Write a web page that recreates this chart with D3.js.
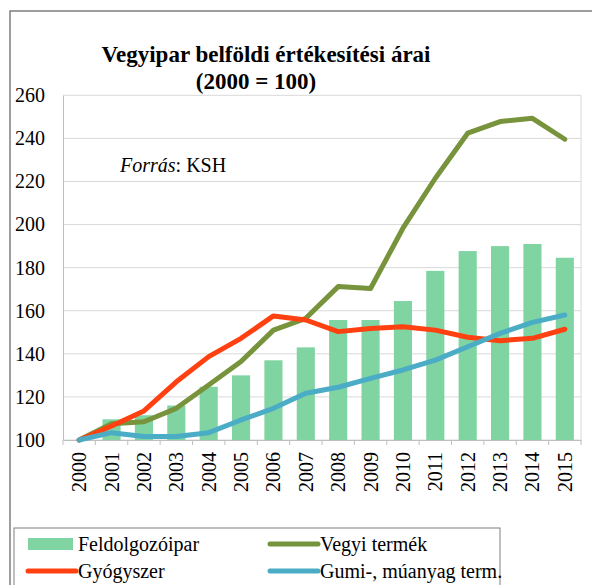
<!DOCTYPE html>
<html>
<head>
<meta charset="utf-8">
<script src="https://cdn.jsdelivr.net/npm/d3@7"></script>
<style>
  body { margin: 0; background: #fff; }
</style>
</head>
<body>
<svg id="vegyipar" width="592" height="585"></svg>
<script>
const years = ['2000','2001','2002','2003','2004','2005','2006','2007','2008','2009','2010','2011','2012','2013','2014','2015'];
const feldolgozoipar = [100, 109.6, 111.5, 116, 124.7, 130, 137, 143, 155.7, 155.7, 164.5, 178.5, 187.7, 190, 191, 184.6];
const vegyiTermek = [100, 107.5, 108.5, 114.7, 125.5, 136.4, 151, 156.5, 171.2, 170.3, 198.3, 221.5, 242.4, 247.8, 249.3, 239.6];
const gyogyszer = [100, 106.5, 113.5, 127, 138.7, 147.2, 157.6, 155.7, 150.3, 151.8, 152.6, 151, 147.7, 146.1, 147.2, 151.4];
const gumi = [100, 103.4, 101.6, 101.6, 103.4, 109.3, 114.7, 121.7, 124.5, 128.6, 132.5, 137.1, 143.3, 149.5, 154.6, 158];
const yTicks = [100, 120, 140, 160, 180, 200, 220, 240, 260];

const FONT = '"Liberation Serif", "Times New Roman", serif';
const colors = {
    bar: '#7fd4a2',
    vegyi: '#77933c',
    gyogy: '#ff4010',
    gumi: '#4bacc6'
};

const svg = d3.select('#vegyipar');

// outer chart frame
svg.append('path')
    .attr('d', 'M10,600 L10,11 L600,11')
    .attr('fill', 'none')
    .attr('stroke', '#7f7f7f')
    .attr('stroke-width', 1.5);

const plot = { left: 63, right: 581, top: 95.3, bottom: 440 };

const x = d3.scaleBand()
    .domain(years)
    .range([plot.left, plot.right])
    .paddingInner(0.44)
    .paddingOuter(0.22);

const xc = d3.scaleBand().domain(years).range([plot.left, plot.right]);

const y = d3.scaleLinear()
    .domain([100, 260])
    .range([plot.bottom, plot.top]);

// gridlines
svg.append('g')
    .selectAll('line')
    .data(yTicks)
    .enter()
    .append('line')
    .attr('x1', plot.left)
    .attr('x2', plot.right)
    .attr('y1', d => y(d))
    .attr('y2', d => y(d))
    .attr('stroke', '#d9d9d9')
    .attr('stroke-width', 1);

// right border
svg.append('line')
    .attr('x1', plot.right).attr('x2', plot.right)
    .attr('y1', plot.top).attr('y2', plot.bottom)
    .attr('stroke', '#d9d9d9');

// y axis
const yAxis = svg.append('g')
    .attr('transform', `translate(${plot.left},0)`)
    .call(d3.axisLeft(y).tickValues(yTicks).tickSize(0).tickPadding(18));
yAxis.select('.domain').attr('stroke', '#bfbfbf');
yAxis.selectAll('text').attr('fill', '#000');

// bars
svg.append('g')
    .selectAll('rect')
    .data(feldolgozoipar)
    .enter()
    .append('rect')
    .attr('x', (d, i) => x(years[i]))
    .attr('width', x.bandwidth())
    .attr('y', d => y(d))
    .attr('height', d => y(100) - y(d))
    .attr('fill', colors.bar);

// x axis
const xAxis = svg.append('g')
    .attr('transform', `translate(0,${plot.bottom})`)
    .call(d3.axisBottom(xc).tickSize(0).tickPadding(0));
xAxis.select('.domain').attr('stroke', '#bfbfbf');
xAxis.selectAll('text').remove();

// tick marks at band boundaries
svg.append('g')
    .selectAll('line')
    .data(years.concat(['end']))
    .enter()
    .append('line')
    .attr('x1', (d, i) => i < years.length ? xc(d) : plot.right)
    .attr('x2', (d, i) => i < years.length ? xc(d) : plot.right)
    .attr('y1', plot.bottom)
    .attr('y2', plot.bottom + 5)
    .attr('stroke', '#bfbfbf');

// rotated year labels
svg.append('g')
    .selectAll('text')
    .data(years)
    .enter()
    .append('text')
    .attr('transform', d => `translate(${xc(d) + xc.bandwidth() / 2 + 7},${plot.bottom + 12}) rotate(-90)`)
    .attr('text-anchor', 'end')
    .text(d => d);

// lines
const line = d3.line()
    .x((d, i) => xc(years[i]) + xc.bandwidth() / 2)
    .y(d => y(d));

[[vegyiTermek, colors.vegyi], [gyogyszer, colors.gyogy], [gumi, colors.gumi]].forEach(([s, c]) => {
    svg.append('path')
        .datum(s)
        .attr('fill', 'none')
        .attr('stroke', c)
        .attr('stroke-width', 5)
        .attr('stroke-linejoin', 'round')
        .attr('stroke-linecap', 'round')
        .attr('d', line);
});

// title
const title = svg.append('text')
    .attr('class', 'title')
    .attr('text-anchor', 'middle')
    .attr('font-weight', 'bold');
title.append('tspan').attr('x', 266).attr('y', 62).text('Vegyipar belföldi értékesítési árai');
title.append('tspan').attr('x', 256).attr('y', 89).text('(2000 = 100)');

// source note
const src = svg.append('text')
    .attr('x', 120)
    .attr('y', 172);
src.append('tspan').attr('font-style', 'italic').text('Forrás');
src.append('tspan').text(': KSH');

// legend
const legend = svg.append('g');
legend.append('rect')
    .attr('x', 14).attr('y', 528)
    .attr('width', 486).attr('height', 80)
    .attr('fill', '#fff')
    .attr('stroke', '#7f7f7f')
    .attr('stroke-width', 1);

const legendItems = [
    { label: 'Feldolgozóipar', color: colors.bar, type: 'bar', lx: 28, ty: 544 },
    { label: 'Vegyi termék', color: colors.vegyi, type: 'line', lx: 270, ty: 544 },
    { label: 'Gyógyszer', color: colors.gyogy, type: 'line', lx: 28, ty: 571 },
    { label: 'Gumi-, múanyag term.', color: colors.gumi, type: 'line', lx: 270, ty: 571 }
];

legendItems.forEach(item => {
    if (item.type === 'bar') {
        legend.append('rect')
            .attr('x', item.lx).attr('y', item.ty - 6)
            .attr('width', 45).attr('height', 12)
            .attr('fill', item.color);
    } else {
        legend.append('line')
            .attr('x1', item.lx).attr('x2', item.lx + 48)
            .attr('y1', item.ty).attr('y2', item.ty)
            .attr('stroke', item.color)
            .attr('stroke-width', 5)
            .attr('stroke-linecap', 'round');
    }
    legend.append('text')
        .attr('x', item.lx + 50)
        .attr('y', item.ty + 7)
        .text(item.label);
});

// serif font everywhere, forced
svg.selectAll('text')
    .style('font-family', FONT, 'important')
    .style('font-size', '20px', 'important');
svg.select('text.title').style('font-size', '23px', 'important');
</script>
</body>
</html>
